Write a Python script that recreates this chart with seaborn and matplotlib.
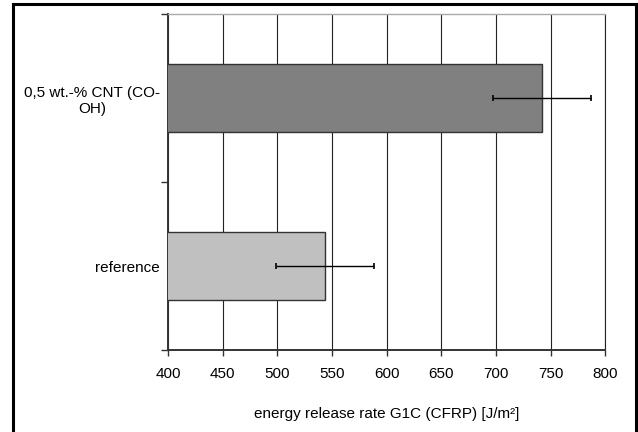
import matplotlib
matplotlib.use("Agg")
import matplotlib.pyplot as plt
from matplotlib.lines import Line2D
import seaborn as sns
import pandas as pd

# Fracture toughness data (mean and standard deviation)
samples = ["0,5 wt.-% CNT (CO-\nOH)", "reference"]
g1c_mean = [742, 543.5]
g1c_std = [44.5, 45]
bar_colors = ["#808080", "#C0C0C0"]
x_ticks = [400, 450, 500, 550, 600, 650, 700, 750, 800]

sns.set_theme(style="white")
plt.rcParams["font.family"] = ["Liberation Sans", "DejaVu Sans"]

df = pd.DataFrame({"sample": samples, "g1c": g1c_mean})

fig = plt.figure(figsize=(6.38, 4.32), dpi=100)
ax = fig.add_axes([168 / 638, 1 - 350 / 432, (605.3 - 168) / 638, (350 - 14) / 432])

sns.barplot(data=df, x="g1c", y="sample", hue="sample", palette=bar_colors,
            order=samples, hue_order=samples, orient="h", width=0.4,
            edgecolor="#333333", linewidth=1.0, errorbar=None, legend=False,
            ax=ax, zorder=3)

ax.errorbar(g1c_mean, range(len(samples)), xerr=g1c_std, fmt="none",
            ecolor="black", elinewidth=1.0, capsize=2.2, capthick=1.2, zorder=4)

ax.set_xlim(400, 800)
ax.set_ylim(1.5, -0.5)
ax.set_xticks(x_ticks)
ax.set_xticklabels([str(v) for v in x_ticks], fontsize=11, color="black")
ax.set_yticks([0, 1])
ax.set_yticklabels(samples, fontsize=11, color="black", ha="right",
                   multialignment="center")
ax.set_yticks([-0.5, 0.5, 1.5], minor=True)
ax.tick_params(axis="y", which="major", length=0, pad=5.8)
ax.tick_params(axis="y", which="minor", length=5, width=1.0, color="#333333",
               direction="out", left=True)
ax.tick_params(axis="x", which="major", length=4, width=1.0, color="#333333",
               direction="out", bottom=True, pad=8)

ax.grid(axis="x", color="#222222", linewidth=0.8, zorder=0)
ax.grid(axis="y", visible=False)
ax.set_axisbelow(True)

ax.set_ylabel("")
ax.set_xlabel("energy release rate G1C (CFRP) [J/m²]", fontsize=11,
              color="black", labelpad=19)

for side in ("left", "bottom"):
    ax.spines[side].set_color("#333333")
    ax.spines[side].set_linewidth(1.4)
ax.spines["top"].set_color("#AAAAAA")
ax.spines["top"].set_linewidth(1.0)
ax.spines["right"].set_color("#222222")
ax.spines["right"].set_linewidth(0.8)

# Outer frame around the figure (open at the bottom edge of the canvas)
W, H = 638, 432
frame = dict(color="black", linewidth=2.2, transform=fig.transFigure,
             solid_capstyle="projecting")
left_x, right_x, top_y = 13 / W, 635.8 / W, 1 - 4.2 / H
fig.add_artist(Line2D([left_x, left_x], [-0.02, top_y], **frame))
fig.add_artist(Line2D([right_x, right_x], [-0.02, top_y], **frame))
fig.add_artist(Line2D([left_x, right_x], [top_y, top_y], **frame))

fig.savefig("out.png", dpi=100, facecolor="white")
